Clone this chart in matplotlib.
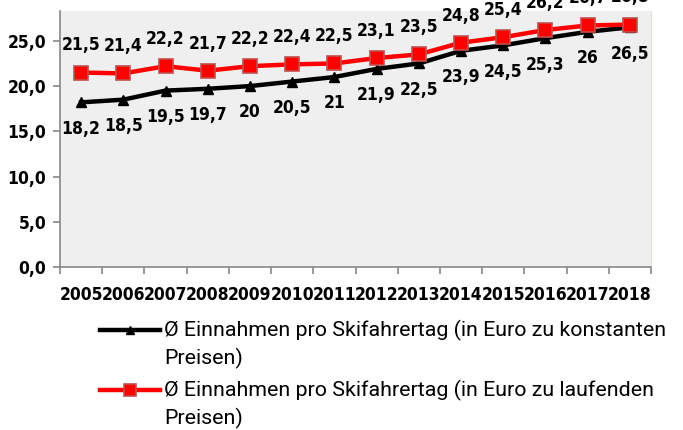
import matplotlib
matplotlib.use("Agg")
import matplotlib.pyplot as plt
from matplotlib.lines import Line2D
from matplotlib.ticker import FixedLocator, FuncFormatter, MultipleLocator

# Daten
jahre = ["2005", "2006", "2007", "2008", "2009", "2010", "2011",
         "2012", "2013", "2014", "2015", "2016", "2017", "2018"]
konstant = [18.2, 18.5, 19.5, 19.7, 20.0, 20.5, 21.0, 21.9, 22.5, 23.9, 24.5, 25.3, 26.0, 26.5]
laufend = [21.5, 21.4, 22.2, 21.7, 22.2, 22.4, 22.5, 23.1, 23.5, 24.8, 25.4, 26.2, 26.7, 26.8]
label_konstant = "Ø Einnahmen pro Skifahrertag (in Euro zu konstanten\nPreisen)"
label_laufend = "Ø Einnahmen pro Skifahrertag (in Euro zu laufenden\nPreisen)"

bold_kw = dict(fontsize=12.5, fontweight="bold", family="DejaVu Sans",
               fontstretch="condensed")


def komma(v):
    return f"{v:.1f}".replace(".", ",")


def kurz(v):
    return f"{v:g}".replace(".", ",")


fig = plt.figure(figsize=(6.83, 4.30), dpi=100)
ax = fig.add_axes([60 / 683, 1 - 267 / 430, (651 - 60) / 683, (267 - 11) / 430])
ax.set_facecolor("#efefef")

x = list(range(len(jahre)))
l1, = ax.plot(x, konstant, color="black", lw=3.2, marker="^", ms=6.5,
              mfc="black", mec="black", zorder=3)
l2, = ax.plot(x, laufend, color="#ff0000", lw=3.2, marker="s", ms=10,
              mfc="#ff0000", mec="#c0504d", mew=1.2, zorder=4)

for xi, v in zip(x, konstant):
    ax.annotate(kurz(v), (xi, v), xytext=(0, -19), textcoords="offset points",
                ha="center", va="center", annotation_clip=False, **bold_kw)
for xi, v in zip(x, laufend):
    ax.annotate(kurz(v), (xi, v), xytext=(0, 19.5), textcoords="offset points",
                ha="center", va="center", annotation_clip=False, **bold_kw)

ax.set_xlim(-0.5, len(jahre) - 0.5)
ax.set_ylim(0, 28.3)
ax.yaxis.set_major_locator(MultipleLocator(5))
ax.yaxis.set_major_formatter(FuncFormatter(lambda v, p: komma(v)))

ax.set_xticks(x)
ax.set_xticklabels(jahre)
ax.xaxis.set_minor_locator(FixedLocator([i - 0.5 for i in range(len(jahre) + 1)]))
ax.tick_params(axis="x", which="major", length=0, pad=14)
ax.tick_params(axis="x", which="minor", length=5, width=1.2, color="#888888")
ax.tick_params(axis="y", length=5, width=1.2, color="#888888", pad=5)
for lab in ax.get_xticklabels() + ax.get_yticklabels():
    lab.set_fontweight("bold")
    lab.set_fontsize(12.5)
    lab.set_family("DejaVu Sans")
    lab.set_fontstretch("condensed")

ax.spines["top"].set_visible(False)
ax.spines["right"].set_color("#e8e2d6")
for s in ["left", "bottom"]:
    ax.spines[s].set_color("#888888")
    ax.spines[s].set_linewidth(1.2)

# Legende (Symbol auf Höhe der ersten Textzeile)
for line, label, y in [(l1, label_konstant, 330), (l2, label_laufend, 390)]:
    yf = 1 - y / 430
    fig.add_artist(Line2D([100 / 683, 160 / 683], [yf, yf], transform=fig.transFigure,
                          color=line.get_color(), lw=line.get_linewidth()))
    fig.add_artist(Line2D([130 / 683], [yf], transform=fig.transFigure,
                          marker=line.get_marker(), ms=line.get_markersize() * 0.9,
                          mfc=line.get_markerfacecolor(), mec=line.get_markeredgecolor(),
                          mew=line.get_markeredgewidth(), lw=0))
    fig.text(164 / 683, yf + 10 / 430, label, ha="left", va="top", family="Roboto",
             fontsize=15.4, linespacing=1.4)

fig.savefig("out.png", dpi=100)
